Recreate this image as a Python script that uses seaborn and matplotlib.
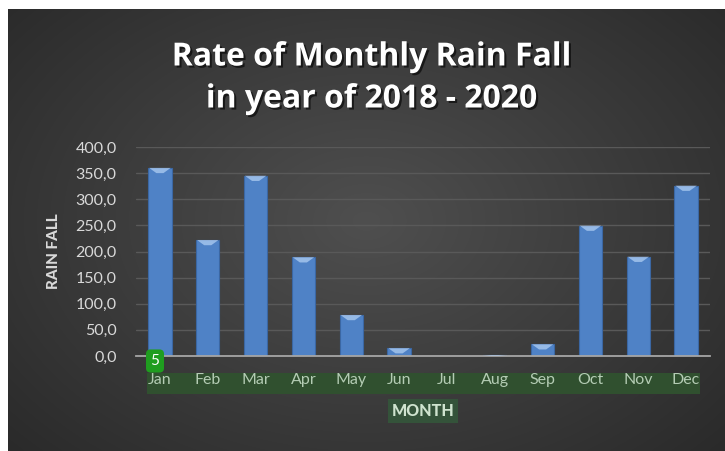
import numpy as np
import pandas as pd
import matplotlib
matplotlib.use("Agg")
import matplotlib.pyplot as plt
import matplotlib.patheffects as pe
from matplotlib.patches import Rectangle, Polygon
from matplotlib.ticker import FuncFormatter
import seaborn as sns

# --- data ---
months = ["Jan", "Feb", "Mar", "Apr", "May", "Jun",
          "Jul", "Aug", "Sep", "Oct", "Nov", "Dec"]
rainfall = [360.0, 222.0, 345.0, 189.0, 78.5, 15.0,
            0.5, 1.5, 22.5, 249.5, 190.0, 326.0]
yticks = [0, 50, 100, 150, 200, 250, 300, 350, 400]

df = pd.DataFrame({"month": months, "rain": rainfall})

sns.set_theme(style="dark")
plt.rcParams["font.family"] = ["Lato", "DejaVu Sans"]

W, H = 725, 451
fig = plt.figure(figsize=(W / 100, H / 100), dpi=100)
fig.patch.set_facecolor("white")

# dark panel with a soft radial gradient
bg = fig.add_axes([8 / W, 0, (W - 8) / W, (H - 9) / H], zorder=-2)
gy, gx = np.mgrid[0:1:300j, 0:1:480j]
r = np.sqrt(((gx - 0.5) / 0.75) ** 2 + ((gy - 0.48) / 0.85) ** 2)
shade = np.clip(0.31 - 0.16 * r, 0.15, 0.31)
bg.imshow(np.dstack([shade] * 3), aspect="auto", extent=[0, 1, 0, 1],
          interpolation="bicubic")
bg.set_axis_off()

# green highlight band behind month labels
fig.patches.append(Rectangle((147 / W, 1 - 394 / H), (700 - 147) / W, 21 / H,
                             transform=fig.transFigure, facecolor="#30502f",
                             edgecolor="none", zorder=-1))

# main plot area
ax = fig.add_axes([136 / W, 1 - 356 / H, (710 - 136) / W, 209 / H], zorder=1)
ax.set_facecolor("none")
sns.barplot(data=df, x="month", y="rain", ax=ax, color="#4f82c6",
            width=0.49, edgecolor="#3b67a3", linewidth=0.8, saturation=1)

# light bevel on top of each bar
for bar in list(ax.patches):
    x0, w, h = bar.get_x(), bar.get_width(), bar.get_height()
    if h > 0.8:
        cap = min(10, h)
        ax.add_patch(Polygon([(x0 + 0.02, h), (x0 + w - 0.02, h),
                              (x0 + w * 0.65, h - cap), (x0 + w * 0.35, h - cap)],
                             closed=True, facecolor="#b5d2f5", edgecolor="none",
                             alpha=0.7, zorder=3))

ax.set_ylim(0, 400)
ax.set_xlim(-0.5, 11.5)
ax.set_yticks(yticks)
ax.yaxis.set_major_formatter(FuncFormatter(lambda v, p: f"{v:.1f}".replace(".", ",")))
ax.grid(axis="y", color="#595959", linewidth=1.0)
ax.grid(axis="x", visible=False)
ax.set_axisbelow(True)
for s in ["top", "right", "left"]:
    ax.spines[s].set_visible(False)
ax.spines["bottom"].set_color("#a6a6a6")
ax.spines["bottom"].set_linewidth(1.3)

ax.tick_params(axis="y", colors="#d9d9d9", labelsize=11.5, length=0, pad=14)
ax.tick_params(axis="x", colors="#b4ccb4", labelsize=11.5, length=0, pad=12)

ax.set_xlabel("MONTH", color="#cfe3cf", fontsize=11.5, weight="black",
              labelpad=12,
              bbox=dict(boxstyle="square,pad=0.25", facecolor="#34533a",
                        edgecolor="none"))
ax.set_ylabel("RAIN FALL", color="#d9d9d9", fontsize=11, weight="black",
              labelpad=10)

# small green badge
fig.text(155 / W, 1 - 361 / H, "5", color="white", fontsize=11,
         ha="center", va="center", zorder=5,
         bbox=dict(boxstyle="round,pad=0.3,rounding_size=0.3",
                   facecolor="#1f9d1f", edgecolor="none"))

# title
shadow = [pe.withSimplePatchShadow(offset=(1.5, -1.5), shadow_rgbFace="black", alpha=0.6)]
for txt, yy in [("Rate of Monthly Rain Fall", 57), ("in year of 2018 - 2020", 99)]:
    fig.text(0.513, 1 - yy / H, txt, color="white", family=["Open Sans", "DejaVu Sans"],
             fontsize=23, fontweight="bold", ha="center", va="center",
             path_effects=shadow)

fig.savefig("out.png", dpi=100)
